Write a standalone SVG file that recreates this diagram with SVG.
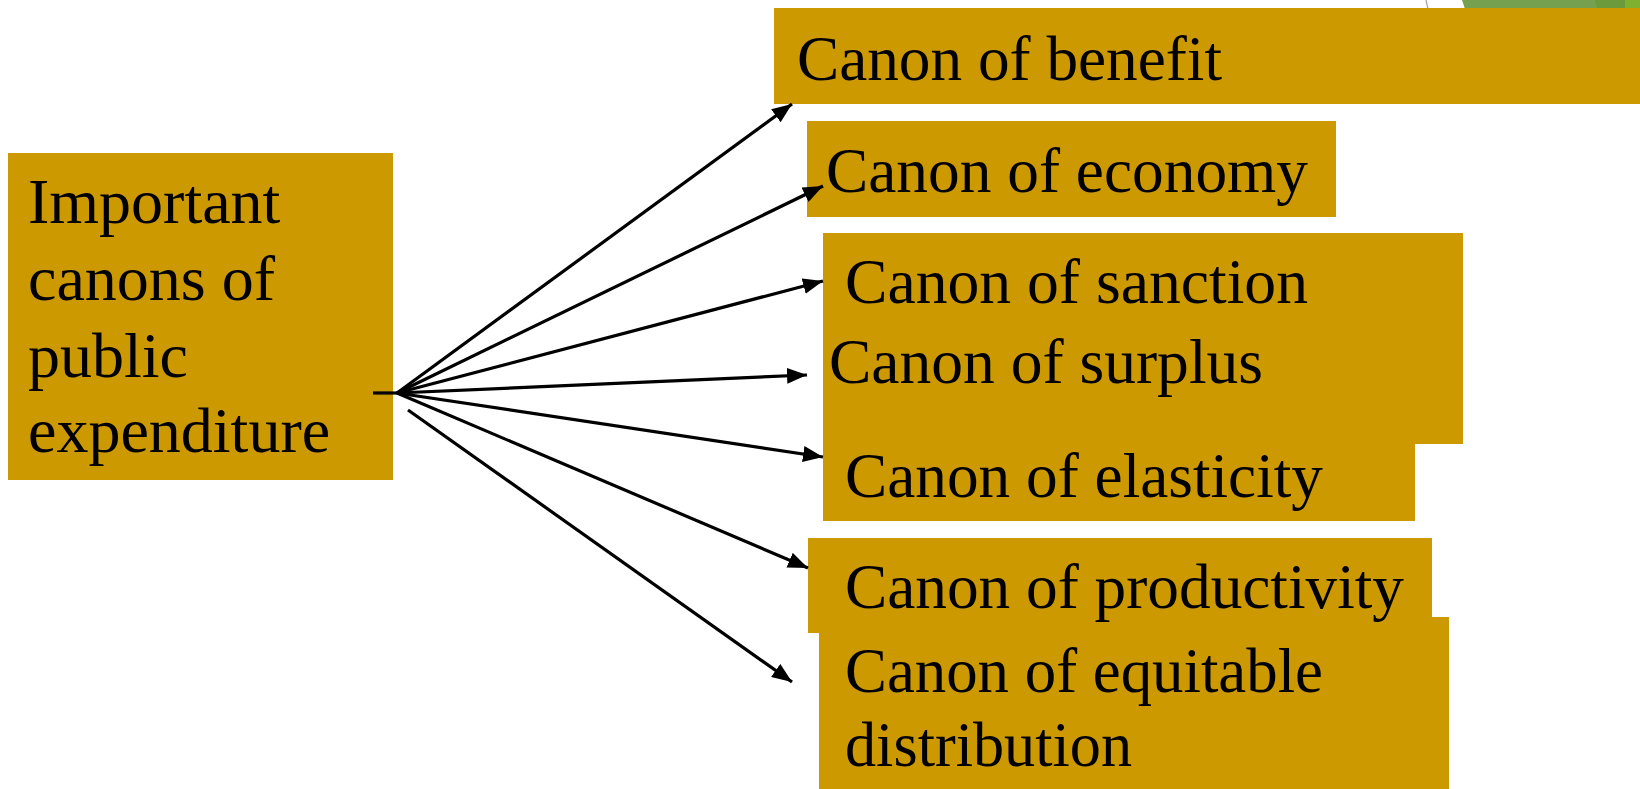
<svg xmlns="http://www.w3.org/2000/svg" width="1640" height="789" viewBox="0 0 1640 789">
<style>
  .box { fill: #cc9900; }
  .t { font-family: "Liberation Serif", "Times New Roman", serif; font-size: 64px; fill: #000; }
  .c { stroke: #000; stroke-width: 3.2; fill: none; }
</style>
<defs>
  <marker id="ah" markerUnits="userSpaceOnUse" markerWidth="22" markerHeight="16" refX="20" refY="8" orient="auto">
    <path d="M0,0 L20,8 L0,16 Z" fill="#000"/>
  </marker>
</defs>
<rect width="1640" height="789" fill="#ffffff"/>
<g id="decor">
  <polygon points="1462,0 1640,0 1640,9 1465,9" fill="#74a050"/>
  <polygon points="1595,0 1625,0 1625,9 1597,9" fill="#6a9a3c"/>
  <rect x="1625" y="0" width="15" height="9" fill="#80b030"/>
  <line x1="1426" y1="0" x2="1428" y2="9" stroke="#a0a0a0" stroke-width="1.2"/>
</g>
<g id="node-main">
  <rect class="box" x="8" y="153" width="385" height="327"/>
  <text class="t" x="28" y="223">Important</text>
  <text class="t" x="28" y="300">canons of</text>
  <text class="t" x="28" y="377">public</text>
  <text class="t" x="28" y="452">expenditure</text>
</g>
<g id="node-benefit">
  <rect class="box" x="774" y="8" width="866" height="96"/>
  <text class="t" x="797" y="80" textLength="425" lengthAdjust="spacingAndGlyphs">Canon of benefit</text>
</g>
<g id="node-economy">
  <rect class="box" x="807" y="121" width="529" height="96"/>
  <text class="t" x="826" y="192" textLength="482" lengthAdjust="spacingAndGlyphs">Canon of economy</text>
</g>
<g id="node-elasticity">
  <rect class="box" x="823" y="420" width="592" height="101"/>
  <text class="t" x="845" y="497" textLength="478" lengthAdjust="spacingAndGlyphs">Canon of elasticity</text>
</g>
<g id="node-sanction">
  <rect class="box" x="823" y="233" width="640" height="211"/>
  <text class="t" x="845" y="303" textLength="463" lengthAdjust="spacingAndGlyphs">Canon of sanction</text>
</g>
<g id="node-surplus">
  <text class="t" x="829" y="383" textLength="434" lengthAdjust="spacingAndGlyphs">Canon of surplus</text>
</g>
<g id="node-equitable">
  <rect class="box" x="819" y="617" width="630" height="172"/>
  <text class="t" x="845" y="692" textLength="478" lengthAdjust="spacingAndGlyphs">Canon of equitable</text>
  <text class="t" x="845" y="766" textLength="287" lengthAdjust="spacingAndGlyphs">distribution</text>
</g>
<g id="node-productivity">
  <rect class="box" x="808" y="538" width="624" height="95"/>
  <text class="t" x="845" y="608" textLength="559" lengthAdjust="spacingAndGlyphs">Canon of productivity</text>
</g>
<g id="connectors">
  <line class="c" x1="373" y1="393" x2="398" y2="393"/>
  <line class="c" x1="397" y1="393" x2="792" y2="104" marker-end="url(#ah)"/>
  <line class="c" x1="397" y1="393" x2="823" y2="186" marker-end="url(#ah)"/>
  <line class="c" x1="397" y1="393" x2="823" y2="281" marker-end="url(#ah)"/>
  <line class="c" x1="397" y1="393" x2="807" y2="375" marker-end="url(#ah)"/>
  <line class="c" x1="397" y1="393" x2="823" y2="457" marker-end="url(#ah)"/>
  <line class="c" x1="397" y1="393" x2="808" y2="568" marker-end="url(#ah)"/>
  <line class="c" x1="408" y1="410" x2="792" y2="682" marker-end="url(#ah)"/>
</g>
</svg>
